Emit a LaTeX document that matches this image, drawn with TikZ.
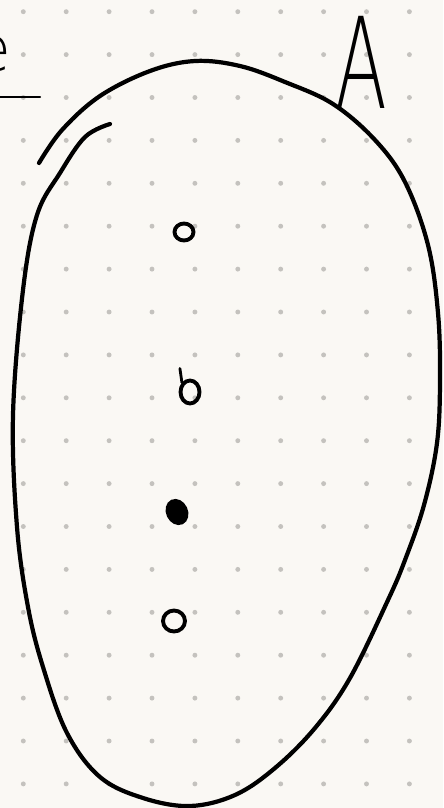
\documentclass[tikz,border=0pt]{standalone}
\usepackage{fontspec}
\usepackage{graphicx}
\newfontfamily\handfont{DejaVu Sans ExtraLight}
\usetikzlibrary{shapes.geometric}
\definecolor{paper}{RGB}{250,248,244}
\definecolor{griddot}{RGB}{196,194,190}

\begin{document}
\begin{tikzpicture}[
    x=0.02cm, y=-0.02cm,
    outline/.style={line width=2.4pt,line cap=round,line join=round},
    elem/.style={ellipse,draw,line width=2.2pt,inner sep=0pt},
    letter/.style={inner sep=0pt,font=\handfont}
]
\fill[paper] (0,0) rectangle (443,808);
\useasboundingbox (0,0) rectangle (443,808);
\foreach \i in {0,...,9}
  \foreach \j in {0,...,18}
    \fill[griddot] ({23.3+42.9*\i},{11.7+42.9*\j}) circle (1.4pt);

\node[letter] (label) at (-8,54) {\fontsize{36}{36}\selectfont e};
\draw[line width=1.2pt,line cap=round] (0,97) -- (40,97);

\node[letter] (seta) at (361,62) {\scalebox{0.6}[1]{\fontsize{72}{72}\selectfont A}};

\draw[outline] plot[smooth,tension=0.6] coordinates {
  (39,163) (62,130) (100,96) (150,71) (195,61) (240,66) (285,82) (333,104)
  (375,140) (405,182) (428,245) (438,313) (440,380) (437,443) (424,505)
  (405,560) (388,600) (350,678) (315,728) (275,768) (235,795) (190,806)
  (143,798) (100,777) (67,733) (43,667) (28,607) (17,527) (13,415)
  (23,290) (37,215) (60,173) (85,137) (110,124)};

\node[elem,minimum width=0.38cm,minimum height=0.34cm] (elema) at (184,232) {};
\node[elem,minimum width=0.38cm,minimum height=0.46cm] (elemb) at (190,392) {};
\draw[line width=1.6pt,line cap=round] (elemb.north west) -- ++(-2,-14);
\node[elem,fill,rotate=25,minimum width=0.36cm,minimum height=0.46cm] (elemc) at (177,512) {};
\node[elem,minimum width=0.44cm,minimum height=0.42cm] (elemd) at (174,621) {};
\end{tikzpicture}
\end{document}
